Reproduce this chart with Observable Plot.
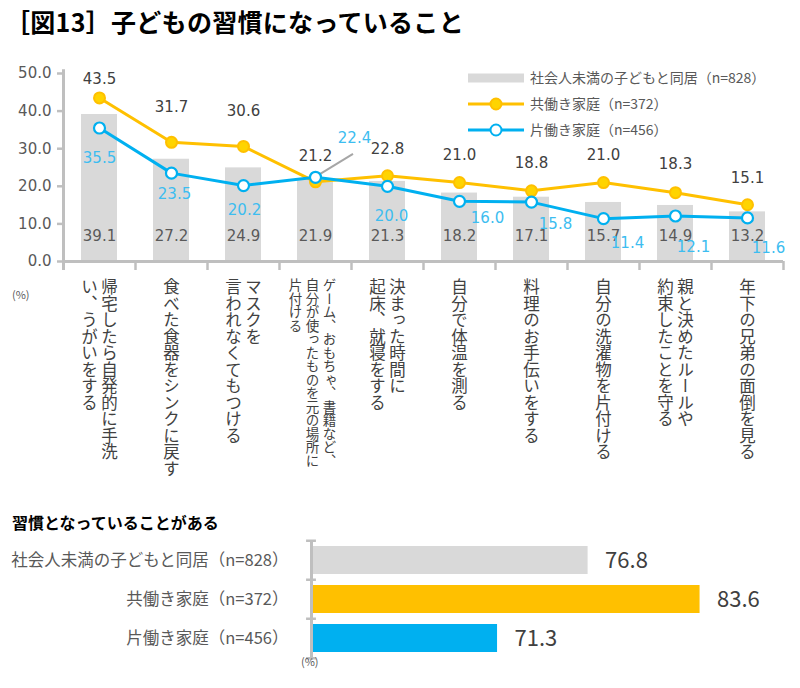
<!DOCTYPE html>
<html><head><meta charset="utf-8">
<script src="https://cdn.jsdelivr.net/npm/d3@7"></script>
<script src="https://cdn.jsdelivr.net/npm/@observablehq/plot@0.6"></script>
<style>
body{margin:0;background:#fff;font-family:"Noto Sans CJK JP","Noto Sans",sans-serif;}
#wrap{position:relative;width:800px;height:688px;overflow:hidden;background:#fff;}
.abs{position:absolute;white-space:nowrap;}
</style></head><body><div id="wrap">
<div class="abs" style="left:5px;top:3px;font-size:25px;font-weight:bold;color:#000;letter-spacing:0.3px">［図13］子どもの習慣になっていること</div>
<div class="abs" style="left:12px;top:286px;font-size:11px;color:#595959">(%)</div>
<div id="topChart" class="abs" style="left:0;top:40px"></div>
<div class="abs" style="left:12px;top:510px;font-size:16px;font-weight:bold;color:#000">習慣となっていることがある</div>
<div id="bottomChart" class="abs" style="left:0;top:530px"></div>
<div class="abs" style="left:301px;top:653px;font-size:11px;color:#595959">(%)</div>
</div>
<script>
// ---------- data ----------
const categories = [
  "帰宅したら自発的に手洗い、うがいをする",
  "食べた食器をシンクに戻す",
  "マスクを言われなくてもつける",
  "ゲーム、おもちゃ、書籍など、自分が使ったものを元の場所に片付ける",
  "決まった時間に起床、就寝をする",
  "自分で体温を測る",
  "料理のお手伝いをする",
  "自分の洗濯物を片付ける",
  "親と決めたルールや約束したことを守る",
  "年下の兄弟の面倒を見る"
];
const categoryLines = [
  ["帰宅したら自発的に手洗", "い、うがいをする"],
  ["食べた食器をシンクに戻す"],
  ["マスクを", "言われなくてもつける"],
  ["ゲーム、おもちゃ、書籍など、", "自分が使ったものを元の場所に", "片付ける"],
  ["決まった時間に", "起床、就寝をする"],
  ["自分で体温を測る"],
  ["料理のお手伝いをする"],
  ["自分の洗濯物を片付ける"],
  ["親と決めたルールや", "約束したことを守る"],
  ["年下の兄弟の面倒を見る"]
];
const coLiving = [39.1, 27.2, 24.9, 21.9, 21.3, 18.2, 17.1, 15.7, 14.9, 13.2];
const dualIncome = [43.5, 31.7, 30.6, 21.2, 22.8, 21.0, 18.8, 21.0, 18.3, 15.1];
const singleIncome = [35.5, 23.5, 20.2, 22.4, 20.0, 16.0, 15.8, 11.4, 12.1, 11.6];
const yTicks = [0, 10, 20, 30, 40, 50];
const seriesNames = ["社会人未満の子どもと同居（n=828）", "共働き家庭（n=372）", "片働き家庭（n=456）"];
const habitShare = [76.8, 83.6, 71.3];

// label offsets (styling only)
const dualLabelDy = [-19, -35, -35, -26, -27, -27, -28, -27, -29, -27];
const singleLabelOffset = [[0, 30], [3, 21], [1, 25], [39, -39], [4, 30], [28, 17], [24, 22], [24, 25], [18, 31], [21, 30]];

const FONT = '"Noto Sans CJK JP","Noto Sans",sans-serif';
const NUMFONT = '"DejaVu Sans","Noto Sans",sans-serif';
const GRAY = "#D9D9D9", ORANGE = "#FFC000", BLUE = "#00B0F0", AXIS = "#BFBFBF";
const TXT = "#595959", BLUETXT = "#3DBDF0", LABELTXT = "#414141";
const fmt = d3.format(".1f");

const rows = categories.map((c, i) => ({cat: c, co: coLiving[i], dual: dualIncome[i], single: singleIncome[i], i}));

// vertical label rows
const labelRows = [];
categoryLines.forEach((lines, k) => {
  const small = lines.length > 2;
  const sp = small ? 17 : 20;
  const base = small ? -3 : 0;
  lines.forEach((t, j) => labelRows.push({cat: categories[k], text: t, off: base + ((lines.length - 1) / 2 - j) * sp, small}));
});

const legendMark = () => {
  const g = d3.create("svg:g").attr("font-family", FONT).attr("font-size", 14).attr("fill", TXT).attr("text-anchor", "start");
  const items = [
    {y: 38, kind: "bar"},
    {y: 64, kind: "dual"},
    {y: 90, kind: "single"}
  ];
  items.forEach((it, i) => {
    if (it.kind === "bar") {
      g.append("rect").attr("x", 468).attr("y", it.y - 4.5).attr("width", 56).attr("height", 9).attr("fill", GRAY);
    } else {
      const col = it.kind === "dual" ? ORANGE : BLUE;
      g.append("line").attr("x1", 468).attr("x2", 524).attr("y1", it.y).attr("y2", it.y).attr("stroke", col).attr("stroke-width", 3);
      g.append("circle").attr("cx", 496).attr("cy", it.y).attr("r", 5.5)
        .attr("fill", it.kind === "dual" ? "#FFD400" : "#fff").attr("stroke", col).attr("stroke-width", 2);
    }
    g.append("text").attr("x", 530).attr("y", it.y).attr("dy", "0.35em").text(seriesNames[i]);
  });
  return g.node();
};

const leaderMark = (index, scales) => {
  const x = scales.x;
  const bw = typeof x.bandwidth === "function" ? x.bandwidth() : (x.bandwidth || 0);
  const cx = x(categories[3]) + bw / 2;
  const cy = scales.y(singleIncome[3]);
  const g = d3.create("svg:g");
  g.append("line").attr("x1", cx + 2).attr("y1", cy - 1).attr("x2", cx + 38).attr("y2", cy - 23)
    .attr("stroke", "#A6A6A6").attr("stroke-width", 2);
  return g.node();
};

const lastCat = categories[categories.length - 1];

const topPlot = Plot.plot({
  width: 800, height: 450,
  marginLeft: 63, marginRight: 17, marginTop: 33, marginBottom: 229,
  style: {fontFamily: NUMFONT, fontSize: "15px", color: TXT, background: "transparent"},
  x: {domain: categories, paddingInner: 0.5, paddingOuter: 0.25, axis: null},
  y: {domain: [0, 50], ticks: yTicks, tickFormat: fmt, tickSize: 0, tickPadding: 12, label: null},
  marks: [
    Plot.barY(rows, {x: "cat", y: "co", fill: GRAY}),
    Plot.ruleY(yTicks, {y: d => d, stroke: AXIS, strokeWidth: 2.5, insetLeft: -6, insetRight: 720}),
    Plot.ruleX([categories[0]], {x: d => d, dx: -36, y1: -2.4, y2: 51, stroke: AXIS, strokeWidth: 3}),
    Plot.ruleY([0], {stroke: AXIS, strokeWidth: 3}),
    Plot.ruleX(categories, {x: d => d, dx: -36, y1: 0, y2: -2.4, stroke: AXIS, strokeWidth: 2.5}),
    Plot.ruleX([lastCat], {x: d => d, dx: 36, y1: 0, y2: -2.4, stroke: AXIS, strokeWidth: 2.5}),
    Plot.text(rows, {x: "cat", frameAnchor: "bottom", dy: -21, text: d => fmt(d.co), fill: TXT, fontSize: 15}),
    Plot.line(rows, {x: "cat", y: "dual", stroke: ORANGE, strokeWidth: 3}),
    Plot.line(rows, {x: "cat", y: "single", stroke: BLUE, strokeWidth: 3}),
    leaderMark,
    Plot.dot(rows, {x: "cat", y: "dual", r: 5.5, fill: "#FFD400", stroke: ORANGE, strokeWidth: 2}),
    Plot.dot(rows, {x: "cat", y: "single", r: 5.5, fill: "#fff", stroke: BLUE, strokeWidth: 2.2}),
    ...rows.map((r, i) => Plot.text([r], {x: "cat", y: "dual", dy: dualLabelDy[i], text: d => fmt(d.dual), fill: "#404040", fontSize: 15})),
    ...rows.map((r, i) => Plot.text([r], {x: "cat", y: "single", dx: singleLabelOffset[i][0], dy: singleLabelOffset[i][1], text: d => fmt(d.single), fill: BLUETXT, fontSize: 15})),
    ...labelRows.map(r => Plot.text([r], {x: "cat", frameAnchor: "bottom", dx: r.off, dy: 17, text: "text", textAnchor: "start",
      fill: LABELTXT, fontFamily: FONT, fontSize: r.small ? 13.5 : 16.5})),
    legendMark
  ]
});
d3.select(topPlot).selectAll("text").filter(function() {
  const g = this.parentNode;
  return g && g.getAttribute && (g.getAttribute("fill") || "").toLowerCase() === LABELTXT.toLowerCase();
}).style("writing-mode", "vertical-rl").style("text-orientation", "mixed");
document.getElementById("topChart").appendChild(topPlot);

const bars = seriesNames.map((s, i) => ({name: s, v: habitShare[i]}));
const bottomPlot = Plot.plot({
  width: 800, height: 158,
  marginLeft: 311, marginRight: 28, marginTop: 4, marginBottom: 24,
  style: {fontFamily: FONT, fontSize: "16.5px", color: TXT, background: "transparent"},
  x: {domain: [60, 88], axis: null},
  y: {domain: seriesNames, paddingInner: 0.29, paddingOuter: 0.29, tickSize: 0, tickPadding: 23, label: null},
  color: {domain: seriesNames, range: [GRAY, ORANGE, BLUE]},
  marks: [
    Plot.barX(bars, {y: "name", x1: 60, x2: "v", fill: "name"}),
    Plot.ruleX([60], {stroke: AXIS, strokeWidth: 3, insetTop: 6, insetBottom: 4}),
    Plot.ruleY(seriesNames, {y: d => d, dy: -19.75, x1: 59.7, x2: 60.3, stroke: AXIS, strokeWidth: 2.5}),
    Plot.ruleY([seriesNames[2]], {y: d => d, dy: 19.75, x1: 59.7, x2: 60.3, stroke: AXIS, strokeWidth: 2.5}),
    Plot.text(bars, {y: "name", x: "v", dx: 17, text: d => fmt(d.v), textAnchor: "start", fontSize: 22, fill: "#404040"})
  ]
});
document.getElementById("bottomChart").appendChild(bottomPlot);
</script>
</body></html>
